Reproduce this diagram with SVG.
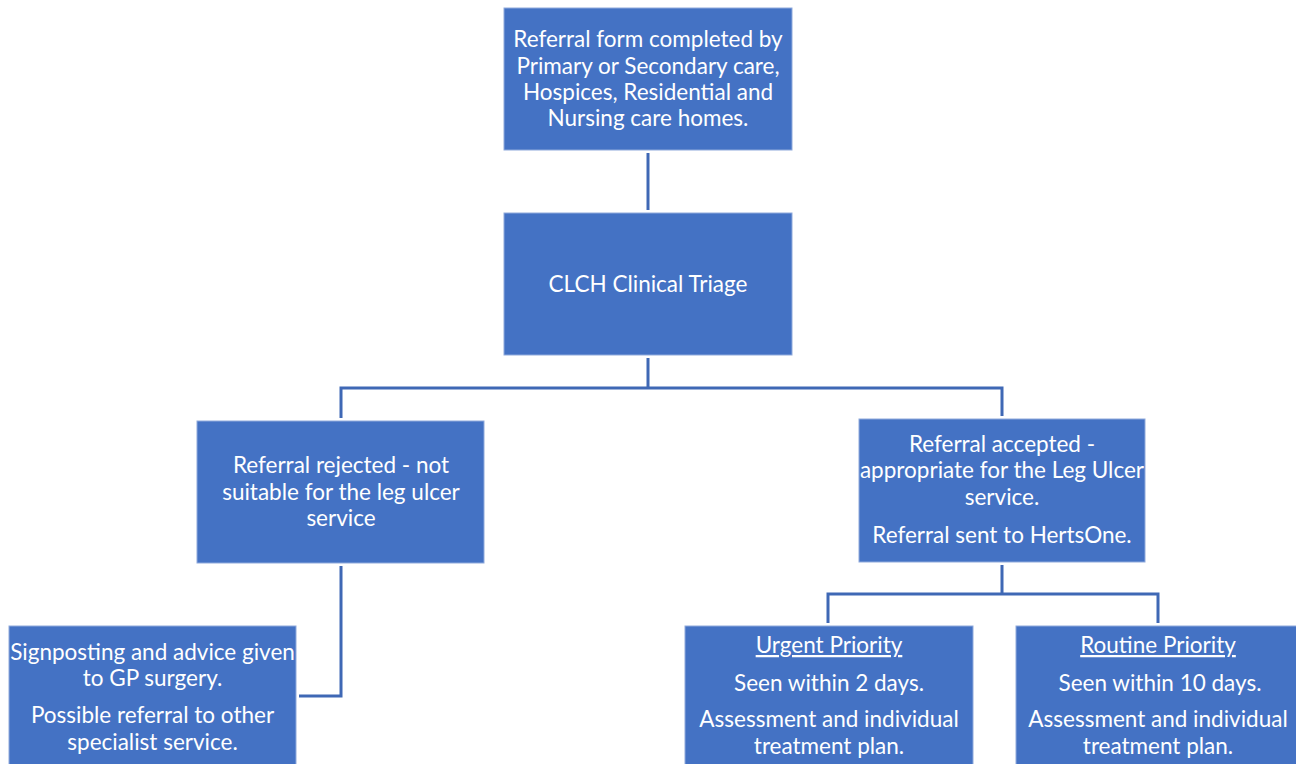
<svg xmlns="http://www.w3.org/2000/svg" width="1296" height="764" viewBox="0 0 1296 764">
<style>
.box{fill:#4472C4;stroke:#8FAADC;stroke-width:1}
.t{font-family:Lato,"Liberation Sans",sans-serif;font-size:22.5px;fill:#FFFFFF;text-anchor:middle}
.u{text-decoration:underline}
.c{fill:none;stroke:#3F68B5;stroke-width:3}
</style>
<rect width="1296" height="764" fill="#FFFFFF"/>
<g id="connectors">
<path class="c" d="M648,153 V210"/>
<path class="c" d="M648,358 V388 M341,388 H1002 M341,386.5 V418 M1002,386.5 V416"/>
<path class="c" d="M341,566 V696 H299"/>
<path class="c" d="M1002,565 V594 M828,594 H1158 M828,592.5 V623 M1158,592.5 V623"/>
</g>
<g id="n1">
<rect class="box" x="504" y="8" width="288" height="142"/>
<text class="t" x="648" y="47">Referral form completed by</text>
<text class="t" x="648" y="74">Primary or Secondary care,</text>
<text class="t" x="648" y="100">Hospices, Residential and</text>
<text class="t" x="648" y="126">Nursing care homes.</text>
</g>
<g id="n2">
<rect class="box" x="504" y="213" width="288" height="142"/>
<text class="t" x="648" y="292">CLCH Clinical Triage</text>
</g>
<g id="n3">
<rect class="box" x="197" y="421" width="287" height="142"/>
<text class="t" x="341" y="473">Referral rejected - not</text>
<text class="t" x="341" y="500">suitable for the leg ulcer</text>
<text class="t" x="341" y="526">service</text>
</g>
<g id="n4">
<rect class="box" x="859" y="419" width="286" height="143"/>
<text class="t" x="1002" y="452">Referral accepted -</text>
<text class="t" x="1002" y="478">appropriate for the Leg Ulcer</text>
<text class="t" x="1002" y="505">service.</text>
<text class="t" x="1002" y="543">Referral sent to HertsOne.</text>
</g>
<g id="n5">
<rect class="box" x="9" y="626" width="287" height="142"/>
<text class="t" x="152.5" y="660">Signposting and advice given</text>
<text class="t" x="152.5" y="686">to GP surgery.</text>
<text class="t" x="152.5" y="723">Possible referral to other</text>
<text class="t" x="152.5" y="750">specialist service.</text>
</g>
<g id="n6">
<rect class="box" x="685" y="626" width="288" height="142"/>
<text class="t u" x="829" y="653">Urgent Priority</text>
<text class="t" x="829" y="691">Seen within 2 days.</text>
<text class="t" x="829" y="727">Assessment and individual</text>
<text class="t" x="829" y="754">treatment plan.</text>
</g>
<g id="n7">
<rect class="box" x="1016" y="626" width="288" height="142"/>
<text class="t u" x="1158" y="653">Routine Priority</text>
<text class="t" x="1160" y="691">Seen within 10 days.</text>
<text class="t" x="1158" y="727">Assessment and individual</text>
<text class="t" x="1158" y="754">treatment plan.</text>
</g>
</svg>
